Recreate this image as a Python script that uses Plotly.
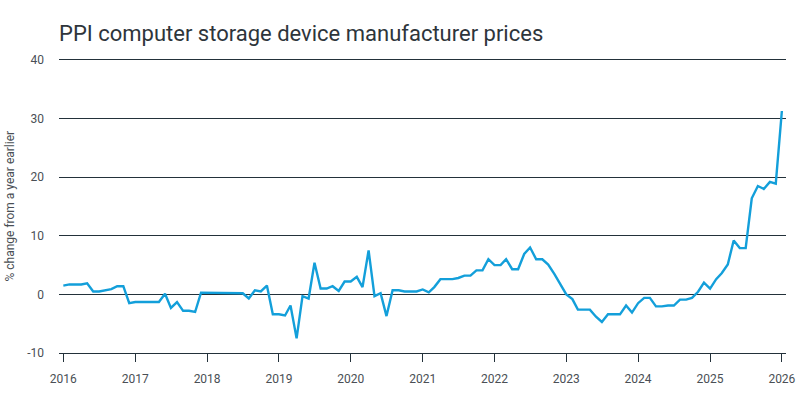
import pandas as pd
import plotly.graph_objects as go

dates = pd.date_range("2016-01-01", "2026-01-01", freq="MS")
values = [
    1.5, 1.7, 1.7, 1.7, 1.9, 0.5, 0.5, 0.7, 0.9, 1.4, 1.4, -1.5,          # 2016
    -1.3, -1.3, -1.3, -1.3, -1.3, 0.1, -2.3, -1.3, -2.8, -2.8, -3.0, 0.3,  # 2017
    0.3, 0.3, 0.3, 0.3, 0.3, 0.3, 0.2, -0.7, 0.7, 0.5, 1.5, -3.4,         # 2018
    -3.4, -3.6, -1.9, -7.5, -0.3, -0.7, 5.4, 1.0, 1.0, 1.4, 0.6, 2.2,     # 2019
    2.2, 3.0, 1.25, 7.5, -0.3, 0.2, -3.7, 0.7, 0.7, 0.5, 0.5, 0.5,        # 2020
    0.85, 0.35, 1.25, 2.6, 2.6, 2.6, 2.8, 3.2, 3.2, 4.1, 4.1, 6.0,        # 2021
    5.0, 5.0, 6.0, 4.3, 4.3, 6.9, 8.0, 6.0, 6.0, 5.1, 3.5, 1.7,           # 2022
    0.0, -0.8, -2.6, -2.6, -2.6, -3.8, -4.7, -3.4, -3.4, -3.4, -1.9, -3.1,  # 2023
    -1.5, -0.6, -0.6, -2.05, -2.05, -1.9, -1.9, -0.9, -0.9, -0.6, 0.45, 2.0,  # 2024
    1.0, 2.6, 3.6, 5.1, 9.2, 7.9, 7.9, 16.4, 18.5, 18.0, 19.2, 18.9,      # 2025
    31.3,                                                                  # 2026
]

y_ticks = [-10, 0, 10, 20, 30, 40]
y_tick_labels = ["-10", "0", "10", "20", "30", "40"]
x_tick_years = list(range(2016, 2027))

title_text = "PPI computer storage device manufacturer prices"
y_title = "% change from a year earlier"

LINE = "#139fda"
GRID = "#23313a"
TXT = "#4a4f55"
FONT = "Roboto"

fig = go.Figure()
fig.add_trace(go.Scatter(
    x=dates, y=values, mode="lines",
    line=dict(color=LINE, width=2.4),
    hoverinfo="skip", showlegend=False,
))

fig.update_layout(
    width=804, height=400,
    margin=dict(l=59, r=18, t=60, b=47, autoexpand=False),
    paper_bgcolor="white", plot_bgcolor="white",
    font=dict(family=FONT, size=12, color=TXT),
    title=dict(
        text=title_text,
        font=dict(family=FONT, size=22, color="#2e353b"),
        xref="paper", x=0, xanchor="left",
        yref="container", y=1 - 33 / 400, yanchor="middle",
    ),
    annotations=[dict(
        text=y_title, textangle=-90,
        xref="paper", yref="paper", x=-50 / 727, y=0.5,
        xanchor="center", yanchor="middle", showarrow=False,
        font=dict(family=FONT, size=12, color=TXT),
    )],
)

fig.update_xaxes(
    type="date",
    range=["2015-12-10", "2026-01-22"],
    tickvals=[pd.Timestamp(f"{y}-01-01") for y in x_tick_years],
    ticktext=[str(y) for y in x_tick_years],
    ticks="outside", ticklen=8, tickwidth=1, tickcolor=GRID,
    ticklabelstandoff=7,
    showgrid=False, zeroline=False,
    showline=True, linecolor=GRID, linewidth=1, mirror=True,
    tickfont=dict(size=12, color=TXT),
    automargin=False,
)

fig.update_yaxes(
    range=[-10, 40],
    tickvals=y_ticks, ticktext=y_tick_labels,
    showgrid=True, gridcolor=GRID, gridwidth=1,
    zeroline=False, showline=False, ticks="",
    ticklabelstandoff=14,
    tickfont=dict(size=12, color=TXT),
    automargin=False,
)

fig.write_html("out.html")
